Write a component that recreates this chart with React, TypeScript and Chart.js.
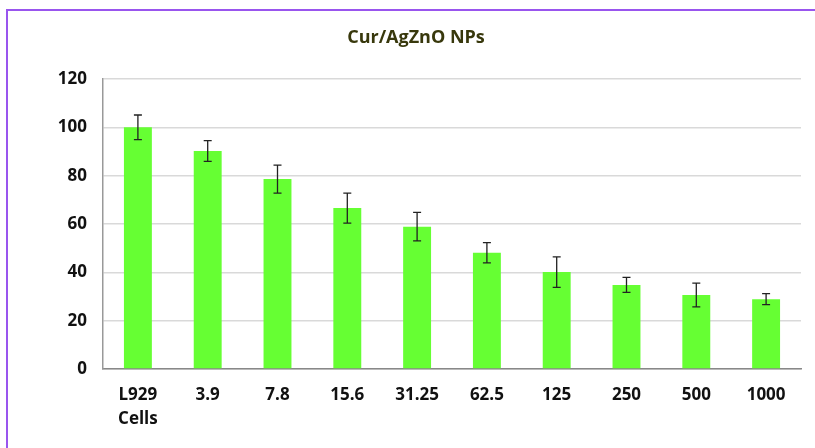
import React, { useEffect, useRef } from "react";
import { Chart, registerables } from "chart.js";

Chart.register(...registerables);

const TITLE = "Cur/AgZnO NPs";
const categories: (string | string[])[] = [["L929", "Cells"], "3.9", "7.8", "15.6", "31.25", "62.5", "125", "250", "500", "1000"];
const viability = [100, 90.2, 78.6, 66.6, 58.9, 48.1, 40.1, 34.8, 30.6, 28.9];
const errors = [5.1, 4.3, 5.8, 6.2, 5.9, 4.2, 6.3, 3.1, 4.9, 2.3];
const yTicks = [0, 20, 40, 60, 80, 100, 120];

const FONT = "'Open Sans', 'DejaVu Sans', sans-serif";

const errorBarPlugin = {
  id: "errorBars",
  afterDatasetsDraw(chart: any) {
    const meta = chart.getDatasetMeta(0);
    const yScale = chart.scales.y;
    const ctx = chart.ctx;
    ctx.save();
    ctx.strokeStyle = "#222222";
    ctx.lineWidth = 1.3;
    meta.data.forEach((bar: any, i: number) => {
      const v = viability[i];
      const e = errors[i];
      const x = bar.x;
      const yt = yScale.getPixelForValue(v + e);
      const yb = yScale.getPixelForValue(v - e);
      const cap = 4;
      ctx.beginPath();
      ctx.moveTo(x, yt);
      ctx.lineTo(x, yb);
      ctx.moveTo(x - cap, yt);
      ctx.lineTo(x + cap, yt);
      ctx.moveTo(x - cap, yb);
      ctx.lineTo(x + cap, yb);
      ctx.stroke();
    });
    ctx.restore();
  },
};

export default function App() {
  const canvasRef = useRef<HTMLCanvasElement | null>(null);

  useEffect(() => {
    if (!canvasRef.current) return;
    const chart = new Chart(canvasRef.current, {
      type: "bar",
      data: {
        labels: categories,
        datasets: [
          {
            data: viability,
            backgroundColor: "#66ff33",
            borderWidth: 0,
            barPercentage: 0.4,
            categoryPercentage: 1.0,
          },
        ],
      },
      options: {
        responsive: false,
        animation: false,
        layout: { padding: { left: 31, right: 14, top: 0, bottom: 0 } },
        plugins: {
          legend: { display: false },
          tooltip: { enabled: false },
          title: {
            display: true,
            text: TITLE,
            color: "#38380c",
            font: { family: FONT, size: 18, weight: "bold", lineHeight: 1.2 },
            padding: { top: 27, bottom: 30.4 },
          },
        },
        scales: {
          x: {
            grid: { display: false, drawTicks: false },
            border: { display: true, color: "#888888", width: 1.5 },
            ticks: {
              color: "#111111",
              font: { family: FONT, size: 17, weight: "bold", lineHeight: 1.4 },
              padding: 14,
              maxRotation: 0,
              autoSkip: false,
            },
            afterFit(scale: any) {
              scale.height = 79;
            },
          },
          y: {
            min: 0,
            max: 120,
            afterBuildTicks(scale: any) {
              scale.ticks = yTicks.map((v) => ({ value: v }));
            },
            grid: { color: "#d9d9d9", lineWidth: 1.5, drawTicks: false },
            border: { display: true, color: "#999999", width: 1.5 },
            ticks: {
              color: "#111111",
              font: { family: FONT, size: 17, weight: "bold" },
              padding: 16,
            },
            afterFit(scale: any) {
              scale.width = 72;
            },
          },
        },
      },
      plugins: [errorBarPlugin],
    });
    return () => chart.destroy();
  }, []);

  return (
    <div
      style={{
        position: "absolute",
        left: 0,
        top: 0,
        width: 815,
        height: 448,
        overflow: "hidden",
        background: "#ffffff",
      }}
    >
      <div
        style={{
          position: "absolute",
          left: 6,
          top: 9,
          width: 900,
          height: 600,
          border: "2px solid #9955ee",
          boxSizing: "border-box",
        }}
      />
      <canvas
        ref={canvasRef}
        width={815}
        height={448}
        style={{ position: "absolute", left: 0, top: 0, width: 815, height: 448 }}
      />
    </div>
  );
}
